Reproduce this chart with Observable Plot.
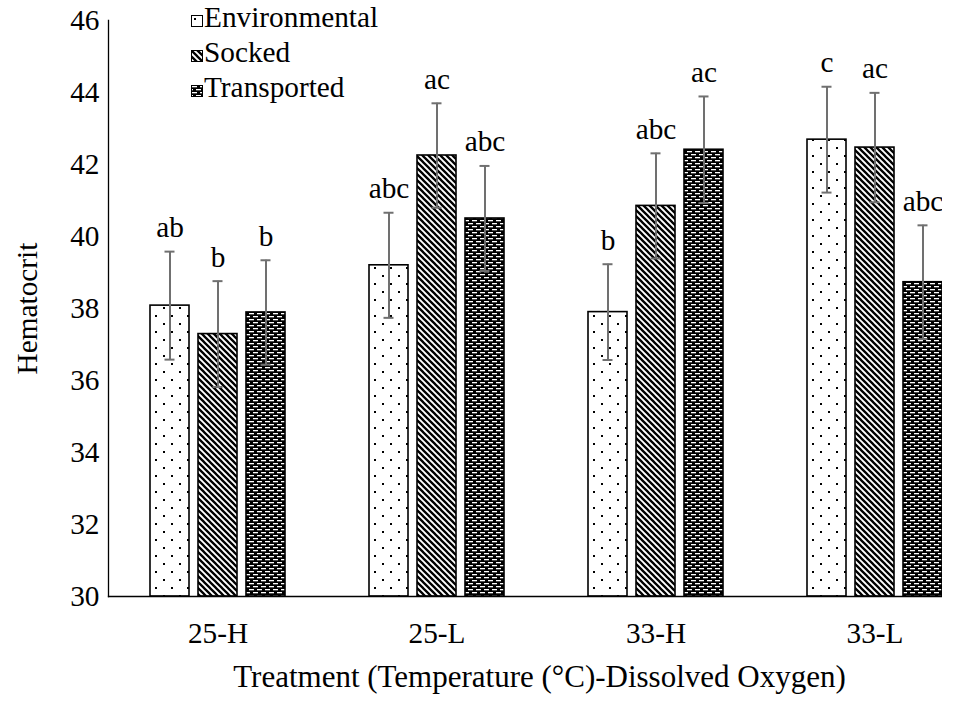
<!DOCTYPE html>
<html>
<head>
<meta charset="utf-8">
<script src="https://cdn.jsdelivr.net/npm/d3@7"></script>
<script src="https://cdn.jsdelivr.net/npm/@observablehq/plot@0.6"></script>
<style>
  body { margin: 0; background: #fff; }
  #wrap { position: relative; width: 972px; height: 702px; overflow: hidden; background: #fff; }
  #legend { position: absolute; left: 191px; top: 0px; font-family: "Liberation Serif", "Times New Roman", serif; font-size: 29.3px; color: #000; }
  #legend .row { height: 35px; line-height: 35px; white-space: nowrap; }
  #legend svg { vertical-align: baseline; margin-right: 1px; }
</style>
</head>
<body>
<svg width="0" height="0" style="position:absolute">
  <defs>
    <pattern id="p-env" width="16" height="16" patternUnits="userSpaceOnUse">
      <rect width="16" height="16" fill="#fff"/>
      <rect x="3" y="3" width="2" height="2" fill="#000"/>
      <rect x="11" y="11" width="2" height="2" fill="#000"/>
    </pattern>
    <pattern id="p-sock" width="6" height="6" patternUnits="userSpaceOnUse">
      <rect width="6" height="6" fill="#fff"/>
      <path d="M-1,-1 L7,7 M-1,5 L1,7 M5,-1 L7,1" stroke="#000" stroke-width="2.3"/>
    </pattern>
    <pattern id="p-trans" width="8" height="6" patternUnits="userSpaceOnUse">
      <rect width="8" height="6" fill="#000"/>
      <rect x="1" y="1" width="5" height="1.3" fill="#fff"/>
      <rect x="5" y="4" width="5" height="1.3" fill="#fff"/>
      <rect x="-3" y="4" width="5" height="1.3" fill="#fff"/>
    </pattern>
  </defs>
</svg>
<div id="wrap"><div id="chart"></div><div id="legend"></div></div>
<script>
const treatments = ["25-H", "25-L", "33-H", "33-L"];
const series = ["Environmental", "Socked", "Transported"];
const envMean = [38.08, 39.20, 37.90, 42.69];
const envSE = [1.50, 1.46, 1.33, 1.47];
const sockMean = [37.29, 42.25, 40.85, 42.47];
const sockSE = [1.47, 1.45, 1.46, 1.52];
const transMean = [37.89, 40.50, 42.41, 38.73];
const transSE = [1.45, 1.46, 1.48, 1.58];
const envLetters = ["ab", "abc", "b", "c"];
const sockLetters = ["b", "ac", "abc", "ac"];
const transLetters = ["b", "abc", "ac", "abc"];
const yTicks = [30, 32, 34, 36, 38, 40, 42, 44, 46];
const yTitle = "Hematocrit";
const xTitle = "Treatment (Temperature (°C)-Dissolved Oxygen)";
const patternFills = ["url(#p-env)", "url(#p-sock)", "url(#p-trans)"];

const seriesTable = [
  [series[0], envMean, envSE, envLetters],
  [series[1], sockMean, sockSE, sockLetters],
  [series[2], transMean, transSE, transLetters]
];
const rows = [];
treatments.forEach((t, i) => {
  seriesTable.forEach(([s, m, se, l]) => {
    rows.push({treatment: t, series: s, mean: m[i], lo: m[i] - se[i], hi: m[i] + se[i], letter: l[i]});
  });
});

const errColor = "#707070";
const chart = Plot.plot({
  width: 942,
  height: 702,
  marginLeft: 108,
  marginRight: 0,
  marginTop: 20,
  marginBottom: 106,
  style: {fontFamily: "'Liberation Serif', 'Times New Roman', serif", fontSize: "29.3px", color: "#000", background: "#fff", overflow: "hidden"},
  fx: {domain: treatments, range: [108, 984], padding: 0, tickSize: 0, tickPadding: 26, label: null},
  x: {domain: series, paddingInner: 0.1875, paddingOuter: 0.875, axis: null},
  y: {domain: [yTicks[0], yTicks[yTicks.length - 1]], ticks: yTicks, tickSize: 0, tickPadding: 9, label: yTitle, labelAnchor: "center", labelArrow: "none", labelOffset: 92},
  color: {domain: series, range: patternFills},
  marks: [
    Plot.barY(rows, {fx: "treatment", x: "series", y1: () => yTicks[0], y2: "mean", fill: "series", stroke: "#000", strokeWidth: 1.6}),
    Plot.ruleX(rows, {fx: "treatment", x: "series", y1: "lo", y2: "hi", stroke: errColor, strokeWidth: 2}),
    Plot.tickY(rows, {fx: "treatment", x: "series", y: "lo", stroke: errColor, strokeWidth: 2, insetLeft: 14.5, insetRight: 14.5}),
    Plot.tickY(rows, {fx: "treatment", x: "series", y: "hi", stroke: errColor, strokeWidth: 2, insetLeft: 14.5, insetRight: 14.5}),
    Plot.text(rows, {fx: "treatment", x: "series", y: "hi", text: "letter", dy: -24, lineAnchor: "middle", fontSize: 29.3, fill: "#000"}),
    Plot.frame({anchor: "left", facet: "super", stroke: "#000", strokeWidth: 1.3}),
    Plot.frame({anchor: "bottom", facet: "super", stroke: "#000", strokeWidth: 1.3}),
    Plot.text([xTitle], {frameAnchor: "bottom", facet: "super", dy: 81, dx: -7, lineAnchor: "middle", fontSize: 31, fill: "#000"})
  ]
});
document.getElementById("chart").appendChild(chart);

const legend = d3.select("#legend");
series.forEach((s, i) => {
  const row = legend.append("div").attr("class", "row");
  const sw = row.append("svg").attr("width", 12).attr("height", 12);
  sw.append("rect").attr("x", 0.5).attr("y", 0.5).attr("width", 11).attr("height", 11)
    .attr("fill", patternFills[i]).attr("stroke", "#000").attr("stroke-width", 1);
  row.append("span").text(s);
});
</script>
</body>
</html>
